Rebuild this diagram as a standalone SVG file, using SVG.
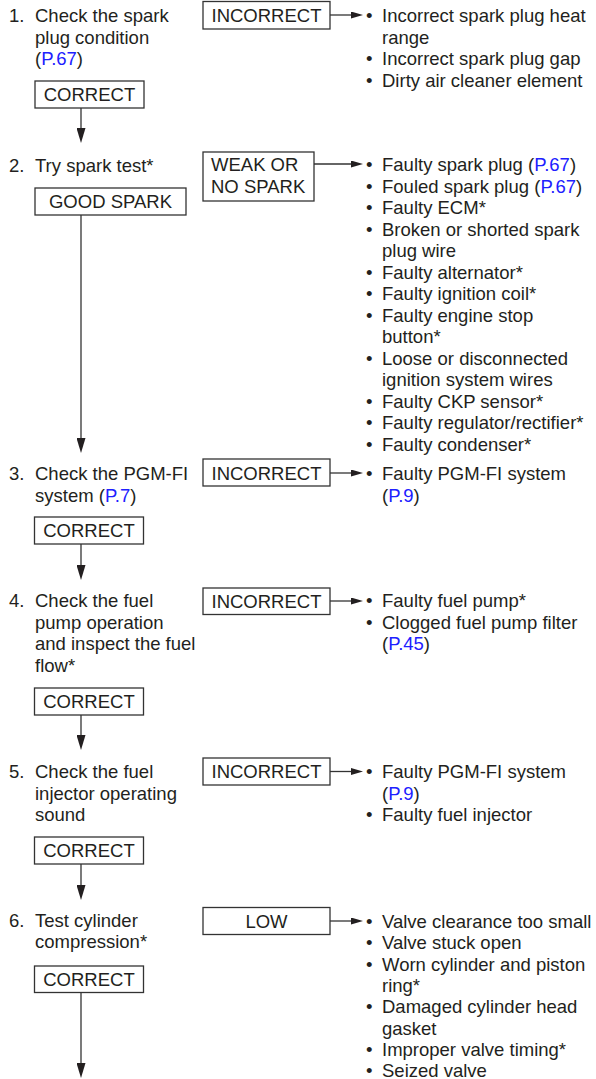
<svg xmlns="http://www.w3.org/2000/svg" width="596" height="1079" viewBox="0 0 596 1079">
<style>
text{font-family:"Liberation Sans",Arial,sans-serif;font-size:18.5px;fill:#231f20}
.c{text-anchor:middle}
.l{fill:#2020ff}
.box{fill:#fff;stroke:#333;stroke-width:1.3}
.wire{fill:none;stroke:#333;stroke-width:1.3}
</style>
<defs>
<marker id="av" markerUnits="userSpaceOnUse" markerWidth="15" markerHeight="9" refX="0" refY="4.5" orient="auto"><path d="M0,0 L15,4.5 L0,9 Z" fill="#231f20"/></marker>
<marker id="ah" markerUnits="userSpaceOnUse" markerWidth="12" markerHeight="7" refX="0" refY="3.5" orient="auto"><path d="M0,0 L12,3.5 L0,7 Z" fill="#231f20"/></marker>
</defs>
<rect width="596" height="1079" fill="#fff"/>
<g id="connectors">
<path class="wire" d="M81,108 V128" marker-end="url(#av)"/>
<path class="wire" d="M81,215 V438" marker-end="url(#av)"/>
<path class="wire" d="M81,544 V565" marker-end="url(#av)"/>
<path class="wire" d="M81,715 V735" marker-end="url(#av)"/>
<path class="wire" d="M81,864 V885" marker-end="url(#av)"/>
<path class="wire" d="M81,992 V1063" marker-end="url(#av)"/>
<path class="wire" d="M330,15 H351" marker-end="url(#ah)"/>
<path class="wire" d="M314,164 H351" marker-end="url(#ah)"/>
<path class="wire" d="M330,473 H351" marker-end="url(#ah)"/>
<path class="wire" d="M330,601 H351" marker-end="url(#ah)"/>
<path class="wire" d="M330,771.5 H351" marker-end="url(#ah)"/>
<path class="wire" d="M330,921 H351" marker-end="url(#ah)"/>
</g>
<g id="step1">
<text x="9" y="22">1.</text>
<text x="35" y="22">Check the spark</text>
<text x="35" y="44">plug condition</text>
<text x="35" y="65">(<tspan class="l">P.67</tspan>)</text>
</g>
<g id="correct1"><rect class="box" x="35" y="81" width="109" height="27"/><text class="c" x="89.5" y="101">CORRECT</text></g>
<g id="incorrect1"><rect class="box" x="203" y="1.5" width="127" height="27.5"/><text class="c" x="266.5" y="22">INCORRECT</text></g>
<g id="causes1">
<text x="366" y="22">•</text><text x="382" y="22">Incorrect spark plug heat</text>
<text x="382" y="44">range</text>
<text x="366" y="65">•</text><text x="382" y="65">Incorrect spark plug gap</text>
<text x="366" y="87">•</text><text x="382" y="87">Dirty air cleaner element</text>
</g>
<g id="step2">
<text x="9" y="172">2.</text>
<text x="35" y="172">Try spark test*</text>
</g>
<g id="goodspark"><rect class="box" x="35" y="188" width="151" height="27"/><text class="c" x="110.5" y="208">GOOD SPARK</text></g>
<g id="weakspark"><rect class="box" x="203" y="152" width="111" height="49"/><text x="211" y="171">WEAK OR</text><text x="211" y="193">NO SPARK</text></g>
<g id="causes2">
<text x="366" y="171">•</text><text x="382" y="171">Faulty spark plug (<tspan class="l">P.67</tspan>)</text>
<text x="366" y="193">•</text><text x="382" y="193">Fouled spark plug (<tspan class="l">P.67</tspan>)</text>
<text x="366" y="214">•</text><text x="382" y="214">Faulty ECM*</text>
<text x="366" y="236">•</text><text x="382" y="236">Broken or shorted spark</text>
<text x="382" y="257">plug wire</text>
<text x="366" y="279">•</text><text x="382" y="279">Faulty alternator*</text>
<text x="366" y="300">•</text><text x="382" y="300">Faulty ignition coil*</text>
<text x="366" y="322">•</text><text x="382" y="322">Faulty engine stop</text>
<text x="382" y="343">button*</text>
<text x="366" y="365">•</text><text x="382" y="365">Loose or disconnected</text>
<text x="382" y="386">ignition system wires</text>
<text x="366" y="408">•</text><text x="382" y="408">Faulty CKP sensor*</text>
<text x="366" y="429">•</text><text x="382" y="429">Faulty regulator/rectifier*</text>
<text x="366" y="451">•</text><text x="382" y="451">Faulty condenser*</text>
</g>
<g id="step3">
<text x="9" y="480">3.</text>
<text x="35" y="480">Check the PGM-FI</text>
<text x="35" y="502">system (<tspan class="l">P.7</tspan>)</text>
</g>
<g id="correct3"><rect class="box" x="34.5" y="517" width="109" height="27"/><text class="c" x="89" y="537">CORRECT</text></g>
<g id="incorrect3"><rect class="box" x="203" y="459" width="127" height="27"/><text class="c" x="266.5" y="480">INCORRECT</text></g>
<g id="causes3">
<text x="366" y="480">•</text><text x="382" y="480">Faulty PGM-FI system</text>
<text x="382" y="502">(<tspan class="l">P.9</tspan>)</text>
</g>
<g id="step4">
<text x="9" y="607">4.</text>
<text x="35" y="607">Check the fuel</text>
<text x="35" y="629">pump operation</text>
<text x="35" y="650">and inspect the fuel</text>
<text x="35" y="672">flow*</text>
</g>
<g id="correct4"><rect class="box" x="34.5" y="688" width="109" height="27"/><text class="c" x="89" y="708">CORRECT</text></g>
<g id="incorrect4"><rect class="box" x="203" y="588" width="127" height="26.5"/><text class="c" x="266.5" y="608">INCORRECT</text></g>
<g id="causes4">
<text x="366" y="607">•</text><text x="382" y="607">Faulty fuel pump*</text>
<text x="366" y="629">•</text><text x="382" y="629">Clogged fuel pump filter</text>
<text x="382" y="650">(<tspan class="l">P.45</tspan>)</text>
</g>
<g id="step5">
<text x="9" y="778">5.</text>
<text x="35" y="778">Check the fuel</text>
<text x="35" y="800">injector operating</text>
<text x="35" y="821">sound</text>
</g>
<g id="correct5"><rect class="box" x="34.5" y="837" width="109" height="27"/><text class="c" x="89" y="857">CORRECT</text></g>
<g id="incorrect5"><rect class="box" x="203" y="758" width="127" height="27"/><text class="c" x="266.5" y="778">INCORRECT</text></g>
<g id="causes5">
<text x="366" y="778">•</text><text x="382" y="778">Faulty PGM-FI system</text>
<text x="382" y="800">(<tspan class="l">P.9</tspan>)</text>
<text x="366" y="821">•</text><text x="382" y="821">Faulty fuel injector</text>
</g>
<g id="step6">
<text x="9" y="927">6.</text>
<text x="35" y="927">Test cylinder</text>
<text x="35" y="948">compression*</text>
</g>
<g id="correct6"><rect class="box" x="34.5" y="966" width="109" height="26.5"/><text class="c" x="89" y="986">CORRECT</text></g>
<g id="low6"><rect class="box" x="203" y="907.5" width="127" height="27"/><text class="c" x="266.5" y="928">LOW</text></g>
<g id="causes6">
<text x="366" y="928">•</text><text x="382" y="928">Valve clearance too small</text>
<text x="366" y="949">•</text><text x="382" y="949">Valve stuck open</text>
<text x="366" y="971">•</text><text x="382" y="971">Worn cylinder and piston</text>
<text x="382" y="992">ring*</text>
<text x="366" y="1013">•</text><text x="382" y="1013">Damaged cylinder head</text>
<text x="382" y="1035">gasket</text>
<text x="366" y="1056">•</text><text x="382" y="1056">Improper valve timing*</text>
<text x="366" y="1077">•</text><text x="382" y="1077">Seized valve</text>
</g>
</svg>
